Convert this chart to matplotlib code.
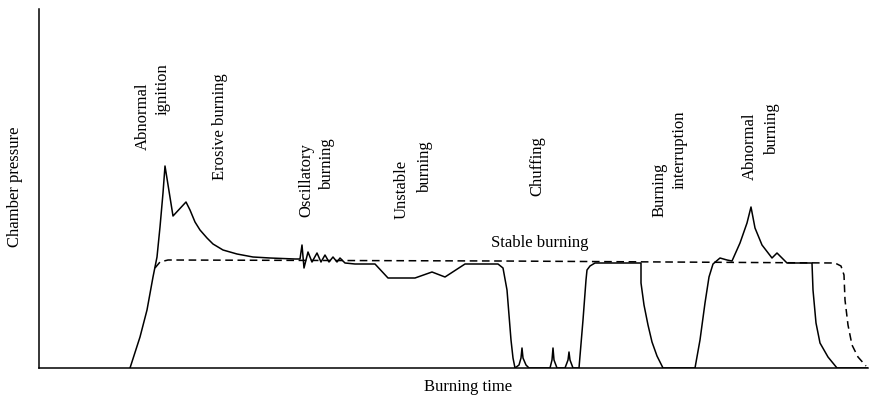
import matplotlib.pyplot as plt

plt.rcParams['font.family'] = ['Liberation Serif', 'DejaVu Serif']

# chamber pressure trace (arbitrary units)
time = [91, 101, 108, 114, 118, 121, 124, 126,
        134, 147, 151, 156, 161, 168, 174, 184, 198, 214, 231, 256,
        261, 263, 265, 269, 273, 278, 282, 286, 290, 294, 298, 301, 306, 316,
        336, 349, 376, 393, 406, 426, 459,
        464, 468, 470, 472, 474, 476,
        480, 482, 483, 484, 487, 490,
        511, 513, 514, 515, 518,
        526, 529, 530, 531, 534,
        540, 544, 547, 548, 551, 556, 602,
        602, 605, 609, 613, 618, 624,
        656, 661, 666, 670, 674, 681, 688, 693, 701, 708, 712,
        716, 723, 733, 738, 743, 748, 773,
        774, 777, 781, 789, 798, 829]
pressure = [0, 31, 58, 91, 111, 141, 175, 202,
            152, 166, 158, 146, 138, 130, 124, 118, 114, 111, 110, 109,
            109, 123, 100, 116, 106, 115, 106, 113, 106, 111, 106, 110, 105, 104,
            104, 90, 90, 96, 91, 104, 104,
            100, 78, 53, 28, 10, 0,
            3, 10, 20, 10, 3, 0,
            0, 8, 20, 8, 0,
            0, 8, 16, 8, 0,
            0, 48, 88, 98, 102, 105, 105,
            85, 63, 43, 26, 12, 0,
            0, 28, 65, 91, 104, 110, 108, 107, 125, 145, 161,
            140, 123, 110, 115, 110, 105, 105,
            78, 45, 25, 11, 0, 0]

# design (stable) pressure trace
time_stable = [116, 121, 129, 461, 796, 802, 805, 806, 809, 813, 819, 827]
pressure_stable = [100, 106, 108, 107, 105, 102, 93, 68, 43, 23, 11, 2]

labels = [
    ("Abnormal", 104, 252, 90),
    ("ignition", 124, 279, 90),
    ("Erosive burning", 181, 241, 90),
    ("Oscillatory", 267, 188, 90),
    ("burning", 288, 205, 90),
    ("Unstable", 363, 179, 90),
    ("burning", 386, 202, 90),
    ("Chuffing", 498, 202, 90),
    ("Stable burning", 501, 125, 0),
    ("Burning", 621, 178, 90),
    ("interruption", 641, 218, 90),
    ("Abnormal", 711, 222, 90),
    ("burning", 733, 240, 90),
]

fig = plt.figure(figsize=(8.7, 3.97), dpi=100)
ax = fig.add_axes([39 / 870, 29 / 397, 829 / 870, 359 / 397])

ax.plot(time, pressure, color="black", lw=1.1)
ax.plot(time_stable, pressure_stable, color="black", lw=1.1, linestyle=(0, (5, 3)))

for text, t, p, rot in labels:
    ax.text(t, p, text, rotation=rot, ha="center", va="center", fontsize=12)

ax.set_xlim(0, 829)
ax.set_ylim(0, 359)
ax.set_xticks([])
ax.set_yticks([])
ax.spines["top"].set_visible(False)
ax.spines["right"].set_visible(False)
ax.spines["left"].set_linewidth(1.1)
ax.spines["bottom"].set_linewidth(1.1)

fig.text(468 / 870, 1 - 387 / 397, "Burning time", ha="center", va="center", fontsize=12)
fig.text(15 / 870, 1 - 187 / 397, "Chamber pressure", rotation=90,
         ha="center", va="center", fontsize=12)

fig.savefig("out.png", dpi=100)
